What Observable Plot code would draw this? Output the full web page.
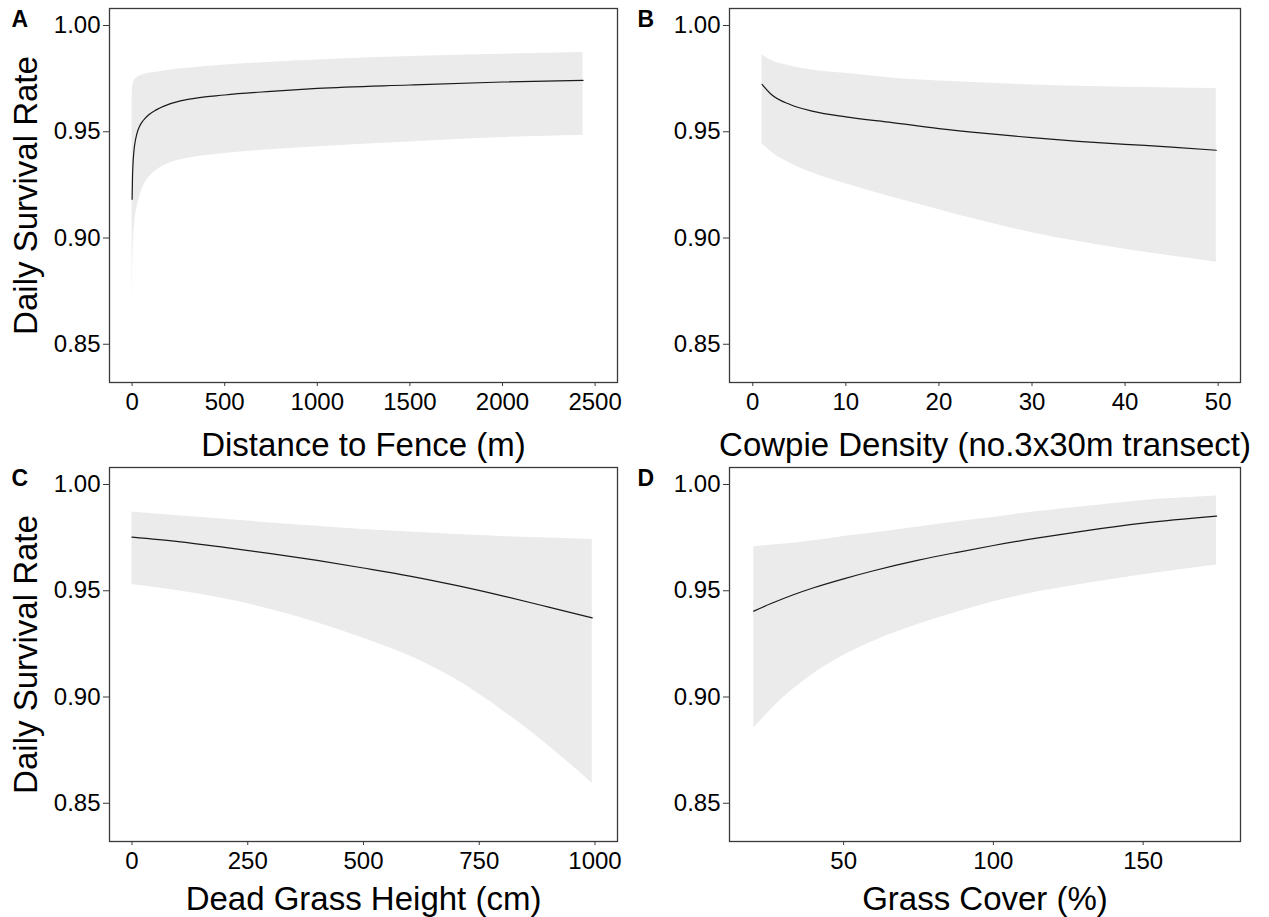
<!DOCTYPE html>
<html>
<head>
<meta charset="utf-8">
<script src="https://cdn.jsdelivr.net/npm/d3@7"></script>
<script src="https://cdn.jsdelivr.net/npm/@observablehq/plot@0.6"></script>
<style>
  html, body { margin: 0; padding: 0; background: #fff; }
  #chart { position: relative; width: 1269px; height: 917px; background: #fff; overflow: hidden; }
  #chart > svg { position: absolute; }
</style>
</head>
<body>
<div id="chart"></div>
<script>
// ---- Data ----
const yTicks = [0.85, 0.90, 0.95, 1.00];
const yTitle = "Daily Survival Rate";

// Panel A: Distance to Fence (m)
const aLetter = "A";
const aTitle = "Distance to Fence (m)";
const aTicks = [0, 500, 1000, 1500, 2000, 2500];
const aX   = [0, 2, 5, 10, 15, 25, 40, 60, 90, 130, 200, 300, 500, 750, 1000, 1500, 2000, 2435];
const aFit = [0.9182, 0.928, 0.935, 0.941, 0.9445, 0.9488, 0.9525, 0.9553, 0.958, 0.9603, 0.963, 0.9652, 0.9673, 0.969, 0.9704, 0.972, 0.9734, 0.9742];
const aLo  = [0.8698, 0.882, 0.894, 0.903, 0.908, 0.9139, 0.919, 0.9242, 0.9285, 0.9318, 0.9352, 0.9375, 0.9398, 0.9415, 0.9429, 0.9452, 0.9473, 0.9484];
const aHi  = [0.968, 0.9705, 0.9722, 0.9737, 0.9745, 0.9753, 0.9762, 0.9768, 0.9775, 0.978, 0.979, 0.9799, 0.9814, 0.9827, 0.9838, 0.9854, 0.9865, 0.9873];

// Panel B: Cowpie Density
const bLetter = "B";
const bTitle = "Cowpie Density (no.3x30m transect)";
const bTicks = [0, 10, 20, 30, 40, 50];
const bX   = [1, 2, 4, 6.5, 10, 15, 20, 25, 30, 35, 40, 45, 49.8];
const bFit = [0.9723, 0.9675, 0.9628, 0.9596, 0.957, 0.9543, 0.9515, 0.9492, 0.9472, 0.9455, 0.9441, 0.9428, 0.9413];
const bLo  = [0.9444, 0.9405, 0.9352, 0.9305, 0.9255, 0.9192, 0.9133, 0.9076, 0.9025, 0.8983, 0.8947, 0.8915, 0.8886];
const bHi  = [0.9862, 0.9835, 0.981, 0.979, 0.9775, 0.9752, 0.9739, 0.9729, 0.972, 0.9714, 0.9709, 0.9706, 0.9704];

// Panel C: Dead Grass Height (cm)
const cLetter = "C";
const cTitle = "Dead Grass Height (cm)";
const cTicks = [0, 250, 500, 750, 1000];
const cX   = [0, 100, 200, 300, 400, 500, 600, 700, 800, 900, 994];
const cFit = [0.9752, 0.9731, 0.9704, 0.9675, 0.9643, 0.9607, 0.9569, 0.9525, 0.9476, 0.9423, 0.9372];
const cLo  = [0.9529, 0.95, 0.9462, 0.9412, 0.935, 0.9277, 0.9193, 0.9082, 0.8937, 0.877, 0.8594];
const cHi  = [0.9871, 0.9853, 0.9836, 0.9819, 0.9803, 0.9788, 0.9776, 0.9765, 0.9755, 0.9748, 0.9741];

// Panel D: Grass Cover (%)
const dLetter = "D";
const dTitle = "Grass Cover (%)";
const dTicks = [50, 100, 150];
const dX   = [20, 26, 33, 40, 50, 60, 75, 88, 100, 115, 130, 150, 174.5];
const dFit = [0.9404, 0.9441, 0.948, 0.9514, 0.9556, 0.9594, 0.9644, 0.9681, 0.9713, 0.9749, 0.9781, 0.9818, 0.9851];
const dLo  = [0.8853, 0.8945, 0.9035, 0.911, 0.9195, 0.9262, 0.9342, 0.94, 0.9448, 0.9495, 0.9532, 0.9575, 0.9621];
const dHi  = [0.9707, 0.9715, 0.9724, 0.9735, 0.9755, 0.9772, 0.98, 0.9825, 0.9845, 0.9873, 0.9895, 0.9925, 0.9946];

// ---- Drawing ----
const FONT = "'Liberation Sans', Arial, Helvetica, sans-serif";
const frameColor = "#3a3a3a";
const container = document.getElementById("chart");

function panel(cfg) {
  const rows = cfg.x.map((v, i) => ({x: v, fit: cfg.fit[i], lo: cfg.lo[i], hi: cfg.hi[i]}));
  const marks = [
    Plot.areaY(rows, {x: "x", y1: "lo", y2: "hi", fill: "#ebebeb", curve: "monotone-x"}),
    Plot.lineY(rows, {x: "x", y: "fit", stroke: "#1a1a1a", strokeWidth: 1.2, curve: "monotone-x"}),
    Plot.frame({stroke: frameColor, strokeWidth: 1.3}),
    Plot.axisX({ticks: cfg.xTicks, tickFormat: d => String(d), tickSize: 4, tickPadding: 6,
                label: null, fontSize: 24, stroke: frameColor, fill: "#000"}),
    Plot.axisY({ticks: yTicks, tickFormat: d3.format(".2f"), tickSize: 6, tickPadding: 3,
                label: null, fontSize: 24, stroke: frameColor, fill: "#000"}),
    Plot.text([cfg.xTitle], {frameAnchor: "bottom", dy: cfg.titleDy, lineAnchor: "top",
                             textAnchor: "middle", fontSize: 33, fill: "#000"}),
    Plot.text([cfg.letter], {frameAnchor: "top-left", dx: cfg.letterDx, dy: 2, lineAnchor: "top",
                             textAnchor: "start", fontSize: 23, fontWeight: "bold", fill: "#000"})
  ];
  if (cfg.yTitle) {
    marks.push(Plot.text([cfg.yTitle], {frameAnchor: "left", rotate: -90, dx: -95.7, lineAnchor: "top",
                                        textAnchor: "middle", fontSize: 33, fill: "#000"}));
  }
  const svg = Plot.plot({
    width: cfg.width, height: cfg.height,
    marginLeft: cfg.mL, marginRight: cfg.mR, marginTop: cfg.mT, marginBottom: cfg.mB,
    x: {domain: cfg.xDomain},
    y: {domain: [0.832, 1.008]},
    style: {fontFamily: FONT, fontSize: "24px", background: "transparent", overflow: "visible", color: "#000"},
    marks
  });
  svg.style.left = cfg.left + "px";
  svg.style.top = cfg.top + "px";
  container.appendChild(svg);
}

panel({x: aX, fit: aFit, lo: aLo, hi: aHi, xDomain: [-122, 2621], xTicks: aTicks, xTitle: aTitle,
       letter: aLetter, letterDx: -98, yTitle: yTitle,
       left: 0, top: 0, width: 634, height: 460, mL: 109, mR: 17, mT: 8, mB: 78, titleDy: 50});
panel({x: bX, fit: bFit, lo: bLo, hi: bHi, xDomain: [-2.5, 52.4], xTicks: bTicks, xTitle: bTitle,
       letter: bLetter, letterDx: -92, yTitle: null,
       left: 634, top: 0, width: 635, height: 460, mL: 95, mR: 29, mT: 8, mB: 78, titleDy: 50});
panel({x: cX, fit: cFit, lo: cLo, hi: cHi, xDomain: [-48.6, 1048.6], xTicks: cTicks, xTitle: cTitle,
       letter: cLetter, letterDx: -98, yTitle: yTitle,
       left: 0, top: 459, width: 634, height: 458, mL: 109, mR: 17, mT: 8, mB: 76, titleDy: 45});
panel({x: dX, fit: dFit, lo: dLo, hi: dHi, xDomain: [11.9, 182.5], xTicks: dTicks, xTitle: dTitle,
       letter: dLetter, letterDx: -92, yTitle: null,
       left: 634, top: 459, width: 635, height: 458, mL: 95, mR: 29, mT: 8, mB: 76, titleDy: 45});
</script>
</body>
</html>
